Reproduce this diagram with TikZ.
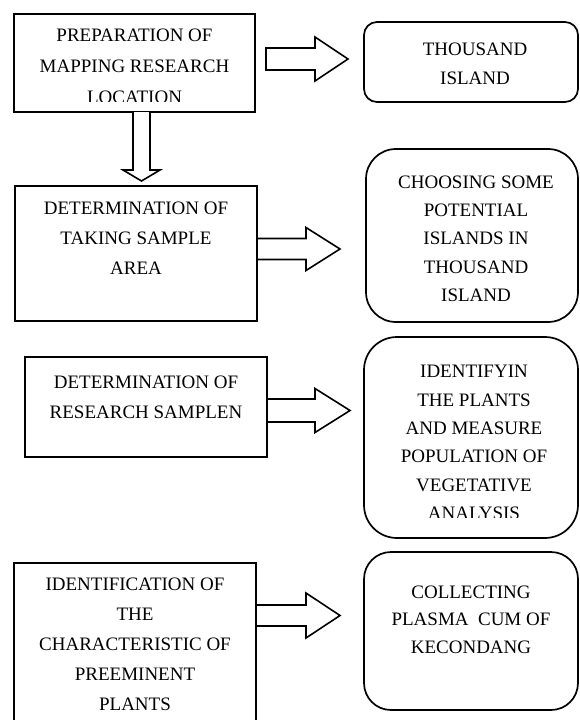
\documentclass[tikz,border=0pt]{standalone}
\usepackage{fontspec}
\setmainfont{Liberation Serif}
\usetikzlibrary{calc}
\tikzset{
  sqbox/.style={draw, line width=1.7pt, rectangle, inner sep=0pt, outer sep=0pt},
  rdbox/.style={draw, line width=1.7pt, rectangle, rounded corners=#1, inner sep=0pt, outer sep=0pt},
  lefttext/.style={align=center, inner sep=0pt, font=\fontsize{19}{30}\selectfont},
  righttext/.style={align=center, inner sep=0pt, font=\fontsize{19}{28.3}\selectfont},
  blockarrow/.style={draw, line width=1.6pt, line join=miter, fill=white}
}
% horizontal block arrow: start, tip, shaft half width, head half width, head length
\newcommand\hblockarrow[5]{%
  \draw[blockarrow] let \p1=(#1), \p2=(#2) in
    (\x1,{\y1+#3pt}) -- ({\x2-#5pt},{\y1+#3pt}) -- ({\x2-#5pt},{\y1+#4pt}) -- (\x2,\y1)
    -- ({\x2-#5pt},{\y1-#4pt}) -- ({\x2-#5pt},{\y1-#3pt}) -- (\x1,{\y1-#3pt}) -- cycle;}
% vertical (downward) block arrow
\newcommand\vblockarrow[5]{%
  \draw[blockarrow] let \p1=(#1), \p2=(#2) in
    ({\x1-#3pt},\y1) -- ({\x1-#3pt},{\y2+#5pt}) -- ({\x1-#4pt},{\y2+#5pt}) -- (\x1,\y2)
    -- ({\x1+#4pt},{\y2+#5pt}) -- ({\x1+#3pt},{\y2+#5pt}) -- ({\x1+#3pt},\y1);}
\begin{document}
\begin{tikzpicture}[x=1pt,y=-1pt]
\useasboundingbox (0,0) rectangle (579,720);
\fill[white] (0,0) rectangle (579,720);

% left boxes
\node[sqbox, minimum width=241pt, minimum height=98pt] (b1) at (134.5,63) {};
\node[sqbox, minimum width=242pt, minimum height=135pt] (b2) at (136,253.5) {};
\node[sqbox, minimum width=242pt, minimum height=100pt] (b3) at (146,407) {};
\node[sqbox, minimum width=242pt, minimum height=172pt] (b4) at (135,649) {};

% right rounded boxes
\node[rdbox=13pt, minimum width=214pt, minimum height=80pt] (r1) at (471,62) {};
\node[rdbox=30pt, minimum width=212pt, minimum height=173pt] (r2) at (472,235.5) {};
\node[rdbox=33pt, minimum width=214pt, minimum height=201pt] (r3) at (471,437.5) {};
\node[rdbox=27pt, minimum width=214pt, minimum height=158pt] (r4) at (471,631) {};

% texts
\begin{scope}
  \clip (14,14) rectangle (255,101.5);
  \node[lefttext, font=\fontsize{19}{31}\selectfont] (t1) at (134.5,66) {PREPARATION OF\\MAPPING RESEARCH\\LOCATION};
\end{scope}
\node[lefttext] (t2) at (136,238) {DETERMINATION OF\\TAKING SAMPLE\\AREA};
\node[lefttext] (t3) at (146,397) {DETERMINATION OF\\RESEARCH SAMPLEN};
\node[lefttext] (t4) at (135,644) {IDENTIFICATION OF\\THE\\CHARACTERISTIC OF\\PREEMINENT\\PLANTS};

\node[righttext, font=\fontsize{19}{29}\selectfont] (u1) at (475,63.5) {THOUSAND\\ISLAND};
\node[righttext] (u2) at (476,238.5) {CHOOSING SOME\\POTENTIAL\\ISLANDS IN\\THOUSAND\\ISLAND};
\begin{scope}
  \clip (364,337) rectangle (578,517);
  \node[righttext] (u3) at (474,442.5) {IDENTIFYIN\\THE PLANTS\\AND MEASURE\\POPULATION OF\\VEGETATIVE\\ANALYSIS};
\end{scope}
\node[righttext, font=\fontsize{19}{27.5}\selectfont] (u4) at (471,619.5) {COLLECTING\\PLASMA\ \ CUM OF\\KECONDANG};

% block arrows
\coordinate (a1s) at (266,59);    \coordinate (a1t) at (348,59);
\coordinate (a2s) at (257,249);   \coordinate (a2t) at (340,249);
\coordinate (a3s) at (267,410.5); \coordinate (a3t) at (350,410.5);
\coordinate (a4s) at (256,615.5); \coordinate (a4t) at (340,615.5);
\coordinate (d1s) at (141.5,112); \coordinate (d1t) at (141.5,181);

\hblockarrow{a1s}{a1t}{11}{22}{33}
\hblockarrow{a2s}{a2t}{10.5}{21.5}{34}
\hblockarrow{a3s}{a3t}{11.5}{22}{35}
\hblockarrow{a4s}{a4t}{10.5}{22.5}{34}
\vblockarrow{d1s}{d1t}{8.5}{18.5}{11}
\end{tikzpicture}
\end{document}
